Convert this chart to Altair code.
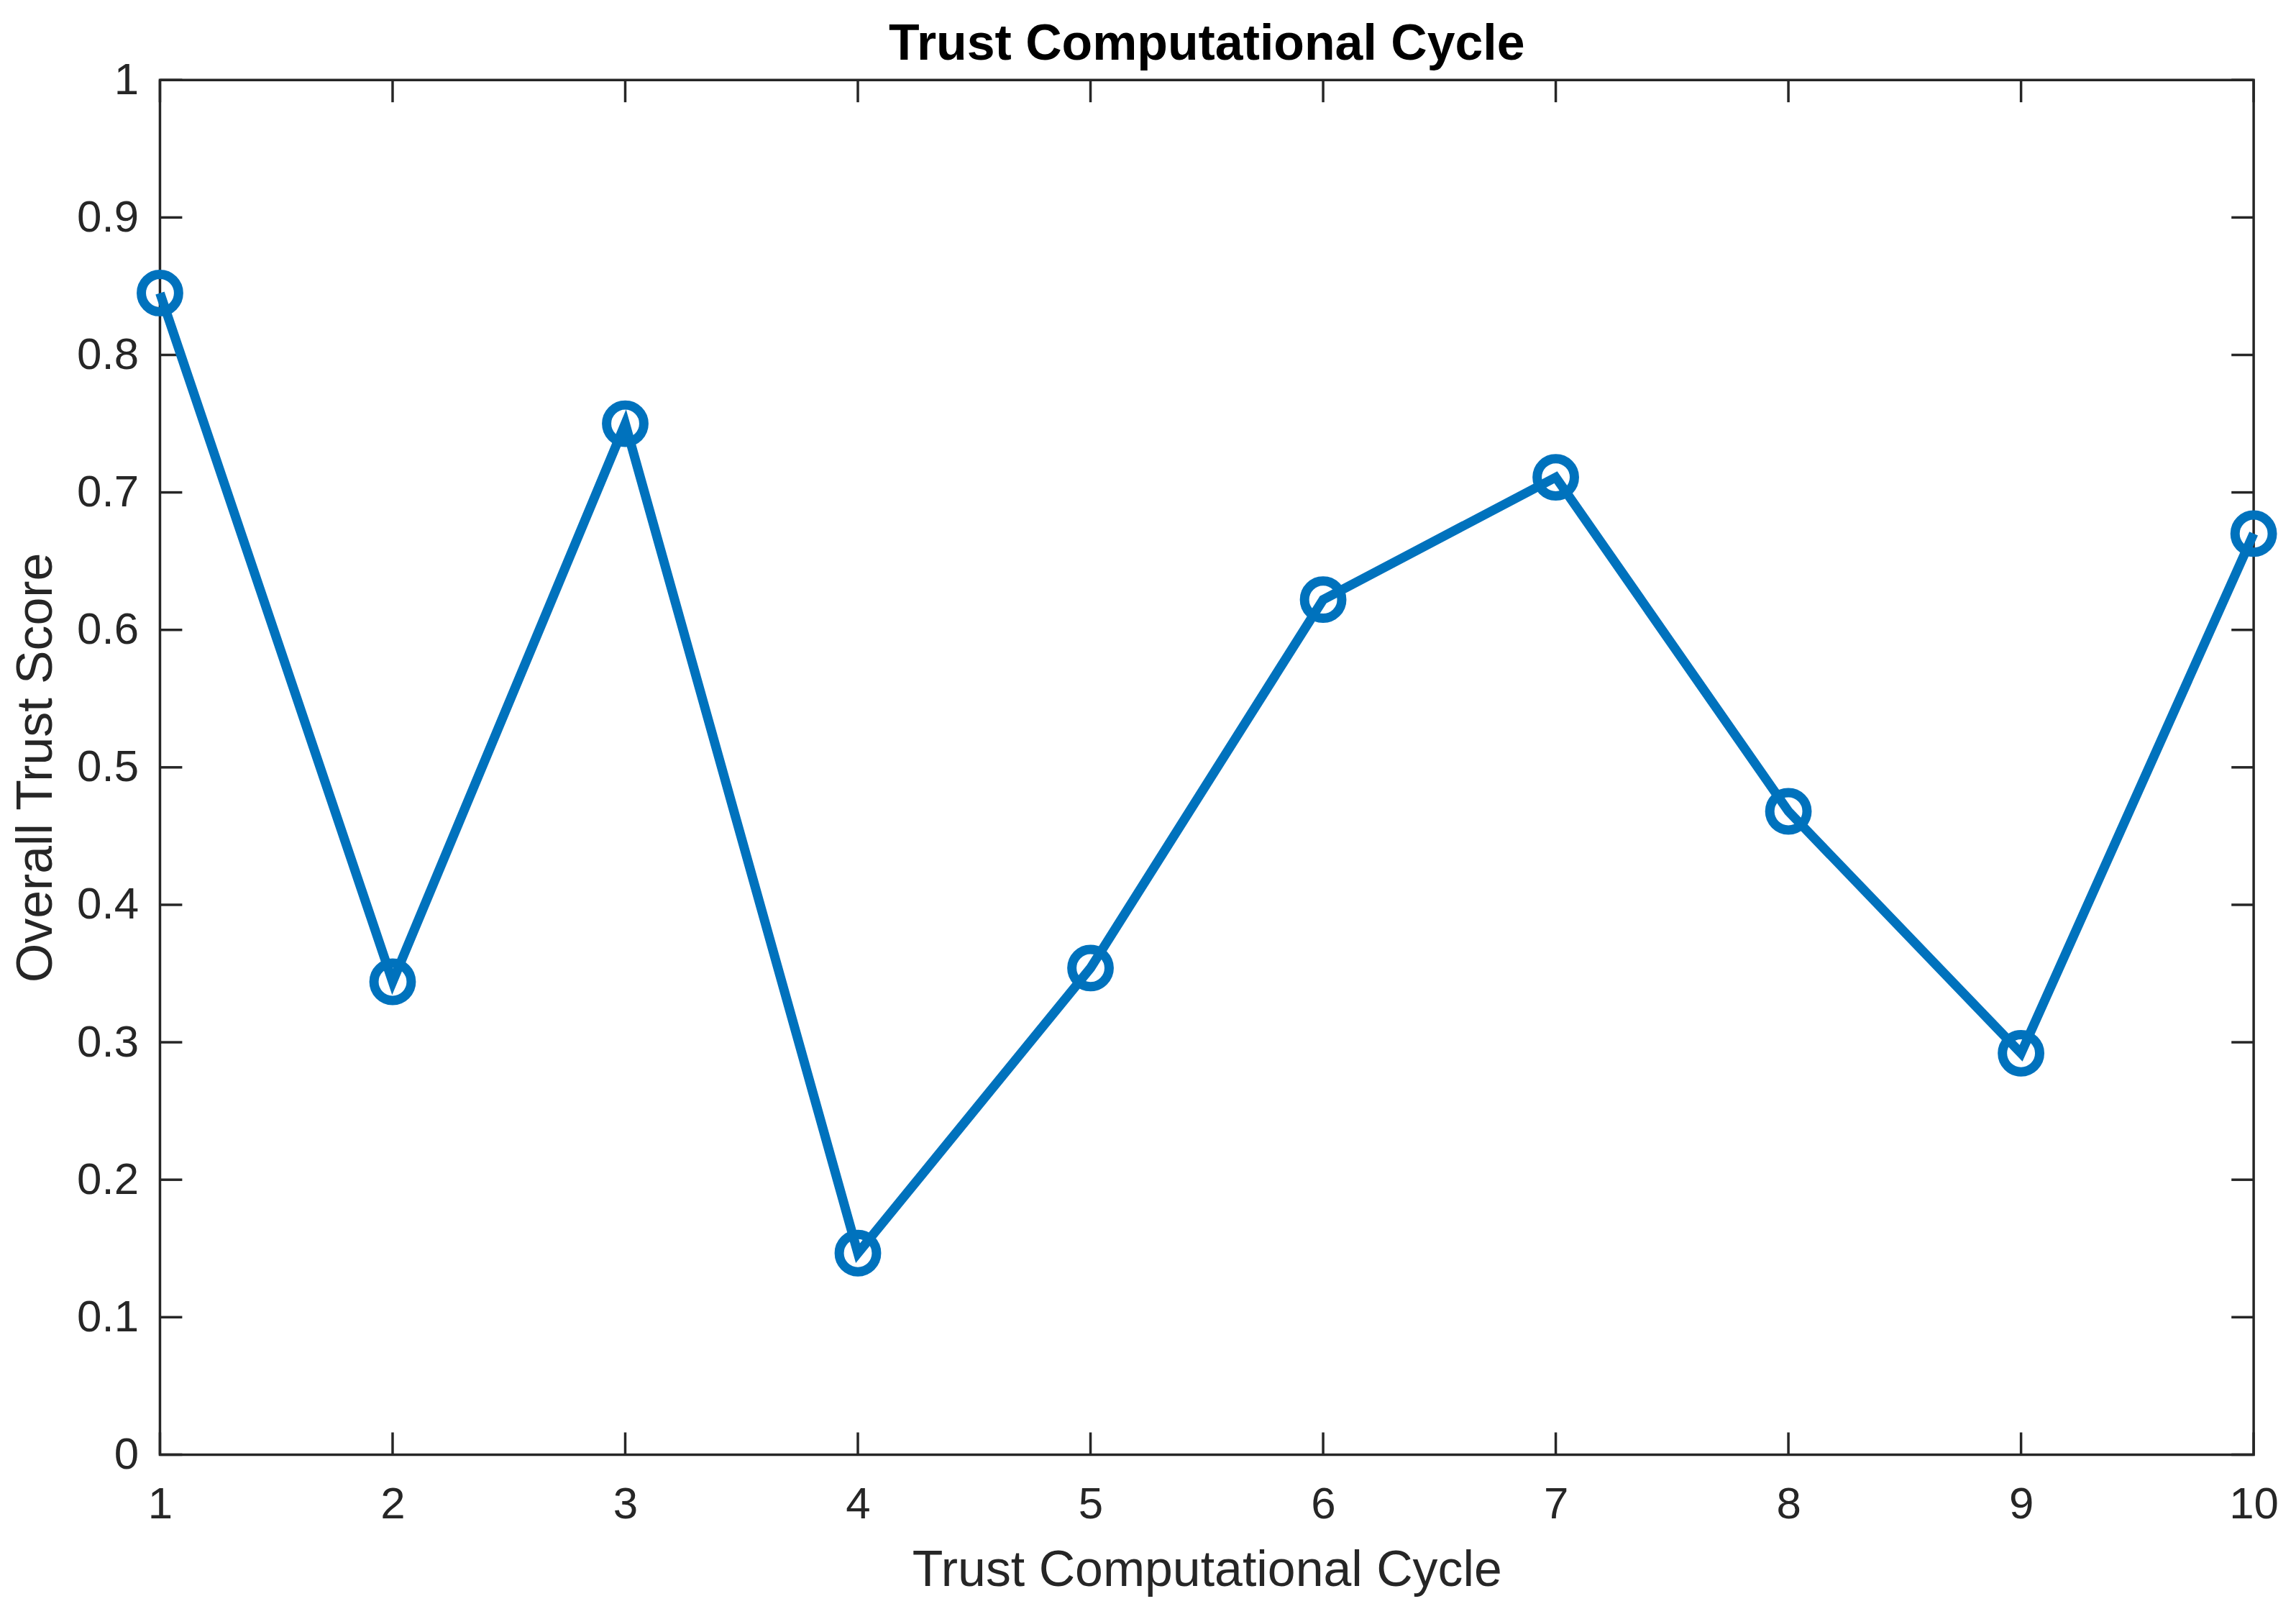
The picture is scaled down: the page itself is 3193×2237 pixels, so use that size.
import altair as alt
import pandas as pd

# ---- data ----
cycles = [1, 2, 3, 4, 5, 6, 7, 8, 9, 10]
scores = [0.845, 0.344, 0.750, 0.1466, 0.354, 0.622, 0.711, 0.468, 0.292, 0.670]
x_ticks = [1, 2, 3, 4, 5, 6, 7, 8, 9, 10]
y_ticks = [0.0, 0.1, 0.2, 0.3, 0.4, 0.5, 0.6, 0.7, 0.8, 0.9, 1.0]
chart_title = "Trust Computational Cycle"

W, H = 2919, 1916
FONT = "Liberation Sans"
AX = "#262626"
BLUE = "#0072BD"
TICK_LEN = 31

df = pd.DataFrame({"cycle": cycles, "score": scores})
xt = pd.DataFrame({"cycle": x_ticks})
yt = pd.DataFrame({"score": y_ticks})
tt = pd.DataFrame({"label": [chart_title]})

xscale = alt.Scale(domain=[1, 10], nice=False, zero=False)
yscale = alt.Scale(domain=[0, 1], nice=False, zero=False)

xaxis = alt.Axis(
    values=x_ticks, format="d", title="Trust Computational Cycle",
    ticks=False, tickSize=0, domain=False, grid=False,
    labelFont=FONT, labelFontSize=62, labelColor=AX, labelPadding=88,
    labelBaseline="alphabetic", labelFlush=False, labelOverlap=False,
    titleFont=FONT, titleFontSize=70, titleFontWeight="normal", titleColor=AX,
    titleBaseline="alphabetic", titleAlign="center", titleX=W / 2, titleY=182.6,
)
yaxis = alt.Axis(
    values=y_ticks, format="~g", title="Overall Trust Score",
    ticks=False, tickSize=0, domain=False, grid=False,
    labelFont=FONT, labelFontSize=62, labelColor=AX, labelPadding=30,
    labelFlush=False, labelOverlap=False,
    titleFont=FONT, titleFontSize=70, titleFontWeight="normal", titleColor=AX,
    titleBaseline="alphabetic", titleAlign="center", titleAngle=270,
    titleX=-151.3, titleY=H / 2,
)

X = alt.X("cycle:Q", scale=xscale, axis=xaxis)
Y = alt.Y("score:Q", scale=yscale, axis=yaxis)

line = alt.Chart(df).mark_line(color=BLUE, strokeWidth=13).encode(x=X, y=Y)
pts = alt.Chart(df).mark_point(
    shape="circle", filled=False, size=2700, strokeWidth=13, color=BLUE, opacity=1
).encode(x=X, y=Y)

rule_style = dict(color=AX, strokeWidth=3.5)
left_ticks = alt.Chart(yt).mark_rule(**rule_style).encode(
    y=Y, x=alt.value(0), x2=alt.value(TICK_LEN))
right_ticks = alt.Chart(yt).mark_rule(**rule_style).encode(
    y=Y, x=alt.value(W - TICK_LEN), x2=alt.value(W))
bottom_ticks = alt.Chart(xt).mark_rule(**rule_style).encode(
    x=X, y=alt.value(H), y2=alt.value(H - TICK_LEN))
top_ticks = alt.Chart(xt).mark_rule(**rule_style).encode(
    x=X, y=alt.value(0), y2=alt.value(TICK_LEN))

title_text = alt.Chart(tt).mark_text(
    font=FONT, fontSize=70, fontWeight="bold", color="#000000",
    align="center", baseline="alphabetic",
).encode(text="label:N", x=alt.value(W / 2), y=alt.value(-28.7))

chart = alt.layer(
    left_ticks, right_ticks, bottom_ticks, top_ticks, line, pts, title_text
).properties(
    width=W, height=H,
    background="white",
    autosize=alt.AutoSizeParams(type="none"),
    padding={"left": 215, "top": 100.7, "right": 51, "bottom": 212},
).configure_view(
    stroke=AX, strokeWidth=3.5
)

chart.save("out.html", embed_options={"renderer": "svg", "actions": False})
